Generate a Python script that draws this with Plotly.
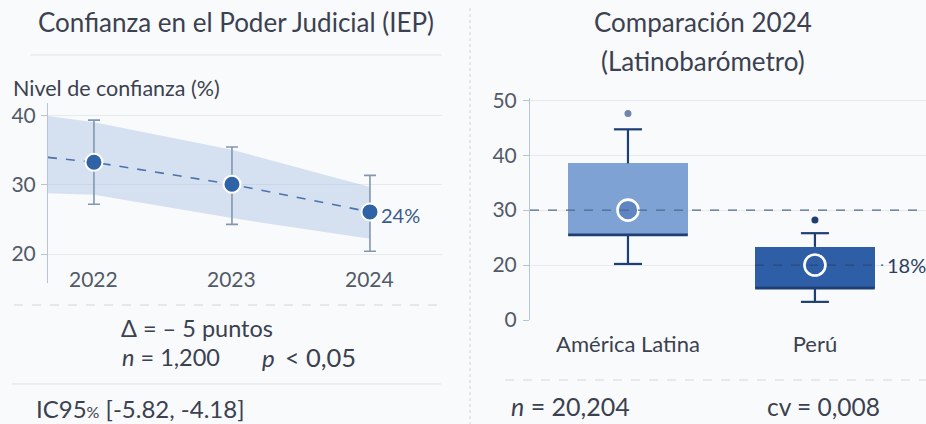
import plotly.graph_objects as go

# ---------------- data ----------------
years = [2022, 2023, 2024]
year_labels = ["2022", "2023", "2024"]
confianza = [33.3, 30.1, 26.1]
ci_hi = [39.4, 35.5, 31.4]
ci_lo = [27.2, 24.3, 20.4]
band_x = [2021.667, 2022, 2023, 2024]
band_hi = [40.0, 39.1, 35.1, 29.7]
band_lo = [28.8, 28.6, 25.2, 22.2]
trend_x = [2021.667, 2022, 2023, 2024]
trend_y = [34.0, 33.3, 30.1, 26.1]
left_ticks = [20, 30, 40]

regions = ["América Latina", "Perú"]
region_pos = [0, 1]
q1 = [25.5, 15.8]
q3 = [38.5, 23.3]
whisk_lo = [20.2, 13.3]
whisk_hi = [44.7, 25.8]
outliers = [47.6, 28.2]
means = [30.0, 20.0]
right_tickvals = [10, 20, 30, 40, 50]
right_ticktext = ["0", "20", "30", "40", "50"]

# ---------------- style ----------------
W, H = 926, 424
FONT = "Lato"
TXT = "#3b4150"
TICK = "#525a68"
GRID = "#e6e9ef"
AXL = "#b9c3d1"
box_fill = ["#7ea2d4", "#2d5ea6"]
navy = "#1e3f73"

def px(x):
    return x / W

def py(y):
    return 1 - y / H

fig = go.Figure()

# ---------- left panel ----------
fig.add_trace(go.Scatter(x=band_x, y=band_hi, mode="lines", line=dict(width=0),
                         hoverinfo="skip", showlegend=False, xaxis="x", yaxis="y"))
fig.add_trace(go.Scatter(x=band_x, y=band_lo, mode="lines", line=dict(width=0),
                         fill="tonexty", fillcolor="rgba(160,188,222,0.40)",
                         hoverinfo="skip", showlegend=False, xaxis="x", yaxis="y"))
fig.add_trace(go.Scatter(x=trend_x, y=trend_y, mode="lines",
                         line=dict(color="#4a72ab", width=1.6, dash="dash"),
                         showlegend=False, xaxis="x", yaxis="y"))
fig.add_trace(go.Scatter(
    x=years, y=confianza, mode="markers",
    marker=dict(size=17, color="#3062a6", line=dict(color="white", width=2)),
    error_y=dict(type="data", symmetric=False,
                 array=[h - v for h, v in zip(ci_hi, confianza)],
                 arrayminus=[v - l for v, l in zip(confianza, ci_lo)],
                 color="#8396b0", thickness=1.6, width=6),
    showlegend=False, xaxis="x", yaxis="y"))

# ---------- right panel ----------
bw = 0.64
for i, (p, a, b) in enumerate(zip(region_pos, q1, q3)):
    fig.add_trace(go.Bar(x=[p], y=[b - a], base=[a], width=bw,
                         marker=dict(color=box_fill[i], line=dict(width=0)),
                         showlegend=False, xaxis="x2", yaxis="y2"))
for i, p in enumerate(region_pos):
    cap = 0.075
    fig.add_trace(go.Scatter(
        x=[p, p, None, p, p, None, p - cap, p + cap, None, p - cap, p + cap],
        y=[q3[i], whisk_hi[i], None, q1[i], whisk_lo[i], None,
           whisk_hi[i], whisk_hi[i], None, whisk_lo[i], whisk_lo[i]],
        mode="lines", line=dict(color=navy, width=2.2),
        showlegend=False, xaxis="x2", yaxis="y2"))
    fig.add_trace(go.Scatter(x=[p - bw / 2, p + bw / 2], y=[q1[i], q1[i]], mode="lines",
                             line=dict(color=navy, width=2.6),
                             showlegend=False, xaxis="x2", yaxis="y2"))

fig.add_shape(type="line", xref="x2 domain", yref="y2", x0=0, x1=1, y0=30, y1=30,
              line=dict(color="#4d6890", width=1.3, dash="dash"), layer="above")
fig.add_shape(type="line", xref="x2", yref="y2", x0=1 - bw / 2, x1=1 + 0.365, y0=20, y1=20,
              line=dict(color="#2a4a7a", width=1.2, dash="dash"), layer="above")

fig.add_trace(go.Scatter(x=region_pos, y=outliers, mode="markers",
                         marker=dict(size=7, color=["#6f86aa", "#1f3f73"]),
                         showlegend=False, xaxis="x2", yaxis="y2"))
fig.add_trace(go.Scatter(x=region_pos, y=means, mode="markers",
                         marker=dict(size=21, color=["#5f86c2", "#2d5ea6"],
                                     line=dict(color="white", width=2.6)),
                         showlegend=False, xaxis="x2", yaxis="y2"))

# ---------- axes ----------
fig.update_layout(
    width=W, height=H,
    margin=dict(l=0, r=0, t=0, b=0, autoexpand=False),
    paper_bgcolor="#f9fafc", plot_bgcolor="rgba(0,0,0,0)",
    font=dict(family=FONT, color=TXT),
    bargap=0,
    xaxis=dict(domain=[px(48), px(442)], range=[2021.667, 2024.522], automargin=False,
               showticklabels=False, showgrid=False, zeroline=False, showline=False, fixedrange=True),
    yaxis=dict(domain=[py(283), py(103)], range=[15.8, 41.88], tickvals=left_ticks, automargin=False,
               tickfont=dict(size=21, color=TICK), ticks="outside", ticklen=6, tickcolor=AXL,
               showgrid=True, gridcolor=GRID, gridwidth=1, zeroline=False,
               showline=True, linecolor=AXL, linewidth=1, ticklabelstandoff=1),
    xaxis2=dict(domain=[px(530), 1.0], range=[-0.524, 1.594], tickvals=region_pos, automargin=False,
                anchor="y2", ticktext=regions, tickfont=dict(size=22, color=TXT), showgrid=False,
                zeroline=False, showline=False, ticks="", ticklabelstandoff=9),
    yaxis2=dict(domain=[py(320), py(98)], range=[10, 50.4], anchor="x2", automargin=False,
                tickvals=right_tickvals, ticktext=right_ticktext,
                tickfont=dict(size=21, color=TICK), ticks="outside", ticklen=6, tickcolor=AXL,
                showgrid=True, gridcolor=GRID, zeroline=False,
                showline=True, linecolor=AXL, linewidth=1, ticklabelstandoff=2),
)

# ---------- annotations ----------
ann = []
def txt(x, y, s, size, xanchor="center", color=TXT, xref="paper", yref="paper", **kw):
    d = dict(x=x, y=y, xref=xref, yref=yref, text=s, showarrow=False,
             xanchor=xanchor, yanchor="middle", font=dict(size=size, color=color, family=FONT))
    d.update(kw)
    ann.append(d)

txt(px(236), py(22), "Confianza en el Poder Judicial (IEP)", 26)
txt(px(11), py(88), "Nivel de confianza (%)", 21.5, xanchor="left")
for yv, lab in zip(years, year_labels):
    txt(yv, py(278), lab, 21, xref="x", color=TICK)
txt(2024, 26.1, "24%", 20, xanchor="left", xref="x", yref="y", color="#3a5a8a", xshift=9, yshift=-3)
txt(px(119), py(328), "Δ = – 5 puntos", 23.5, xanchor="left")
txt(px(120), py(357), "<i>n</i> = 1,200", 23.5, xanchor="left")
txt(px(260), py(357), "<i>p</i>", 24, xanchor="left")
txt(px(283), py(357), "&lt;", 25, xanchor="left")
txt(px(304), py(357), "0,05", 25.5, xanchor="left")
txt(px(34), py(408), "IC95<span style='font-size:16px'>%</span> [-5.82, -4.18]", 24, xanchor="left")

txt(px(703), py(22), "Comparación 2024", 26)
txt(px(703), py(61), "(Latinobarómetro)", 26)
txt(px(885), 20, "18%", 20, xanchor="left", yref="y2", color="#2b3e5e")
txt(px(509), py(406), "<i>n</i> = 20,204", 25, xanchor="left")
txt(px(765), py(406), "cv = 0,008", 24.5, xanchor="left")
fig.update_layout(annotations=ann)

# ---------- separator lines ----------
shp = [
    dict(type="line", xref="paper", yref="paper", x0=px(30), x1=px(442), y0=py(55), y1=py(55),
         line=dict(color="#dfe3e9", width=1)),
    dict(type="line", xref="paper", yref="paper", x0=px(14), x1=px(437), y0=py(305), y1=py(305),
         line=dict(color="#cfd5dd", width=1, dash="dash")),
    dict(type="line", xref="paper", yref="paper", x0=px(12), x1=px(441), y0=py(384), y1=py(384),
         line=dict(color="#dde1e7", width=1)),
    dict(type="line", xref="paper", yref="paper", x0=px(505), x1=1, y0=py(380), y1=py(380),
         line=dict(color="#d3d9e1", width=1, dash="dash")),
    dict(type="line", xref="paper", yref="paper", x0=px(470), x1=px(470), y0=py(8), y1=0,
         line=dict(color="#ccd2da", width=1, dash="dot")),
]
for s in shp:
    fig.add_shape(**s)

fig.write_html(
    "out.html",
    config={"displayModeBar": False},
    post_script="document.body.style.margin='0';document.documentElement.style.overflow='hidden';document.body.style.overflow='hidden';",
)
